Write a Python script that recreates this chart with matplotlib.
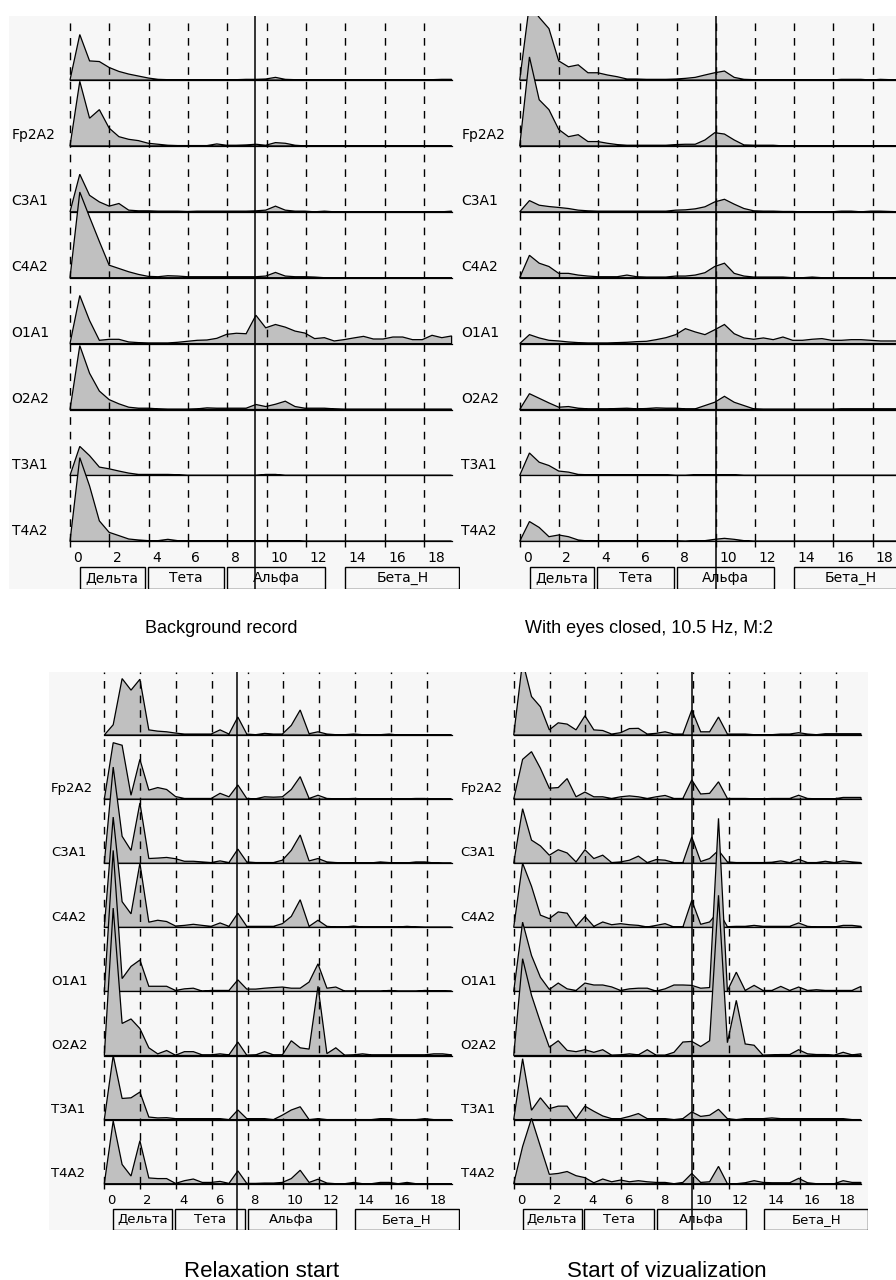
import matplotlib
matplotlib.use("Agg")
import matplotlib.pyplot as plt
from matplotlib.patches import Rectangle
import numpy as np

# frequency grid of the spectra (Hz)
freqs = np.linspace(0, 19.4, 40)

channels = ['', 'Fp2A2', 'C3A1', 'C4A2', 'O1A1', 'O2A2', 'T3A1', 'T4A2']
tick_hz = [0, 2, 4, 6, 8, 10, 12, 14, 16, 18]
band_names = ['Дельта', 'Тета', 'Альфа', 'Бета_Н']
band_lo = [0.5, 3.95, 8.0, 14.0]
band_hi = [3.8, 7.85, 12.95, 19.8]

titles = ['Background record', 'With eyes closed, 10.5 Hz, M:2',
          'Relaxation start', 'Start of vizualization']
marker_hz = [9.42, 10.02, 7.4, 9.94]

# spectra, in % of the row height, one list per channel (top to bottom)
background = [
    [0, 69, 29, 28, 19, 13, 9, 6, 3, 1, 0.5, 0.5, 0.5, 0.5, 0.5, 0.5, 0.5, 0.5, 1, 1,
     1.5, 4, 1, 0.5, 0, 0, 0, 0, 0, 0, 0, 0, 0, 0, 0, 0, 0, 0.5, 1, 1],
    [0, 98, 42, 55, 27, 14, 10, 8, 4, 2.5, 1, 0.5, 0.5, 0.5, 0.5, 3, 1, 1, 1.5, 2.5,
     1, 5, 4, 1, 0, 0, 0, 0, 0, 0, 0, 0, 0, 0, 0, 0, 0, 0, 0, 0],
    [0, 57, 25, 15, 8.6, 12.6, 2.5, 1.5, 1.5, 1, 1, 1, 0.5, 1, 1, 1, 1, 1, 1, 1.5,
     2.5, 8.6, 2.5, 1, 1, 0, 1, 0, 0, 0, 0, 0, 0, 0, 0, 0, 0, 0, 0, 1],
    [0, 130, 92, 55, 19, 14, 9, 5, 2, 1.5, 3, 2.5, 1.5, 1.5, 1.5, 1.5, 1.5, 1.5, 1.5, 1.5,
     2.5, 8, 2.5, 1.5, 1.5, 1, 0, 0, 0, 0, 0, 0, 0, 0, 0, 0, 0, 0, 0, 0],
    [0, 73, 35, 5, 6.5, 6.5, 2.5, 1.5, 1, 1, 1, 2, 3.5, 5, 5.5, 8, 14, 15.7, 15, 43,
     24, 29, 25, 19, 16, 7.6, 9, 4, 6, 8.6, 11, 7, 7, 10, 10, 6, 6, 12.6, 9, 11.6],
    [0, 97, 55, 28, 15, 8.6, 3.5, 2, 2, 1, 0.5, 0.5, 0.5, 1, 2.5, 2, 2, 2, 2, 7.6,
     4.5, 8, 12.6, 4.5, 2, 2, 2, 1, 0.5, 0.5, 0.5, 0.5, 0.5, 0.5, 0.5, 0.5, 0.5, 0.5, 0.5, 0.5],
    [0, 44, 30, 12.6, 10, 6.6, 3.5, 1.5, 1.5, 1.5, 1.5, 1, 0, 0, 0, 0, 0, 0, 0, 0,
     1.5, 1.5, 0, 0, 0, 0, 0, 0, 0, 0, 0, 0, 0, 0, 0, 0, 0, 0, 0, 0],
    [0, 127, 84, 31, 13.6, 8.6, 3.5, 2, 1, 1, 3, 1, 1, 1, 1, 1, 1, 1, 1, 1,
     1, 1, 1, 1, 0, 0, 0, 0, 0, 0, 0, 0, 0, 0, 0, 0, 0, 0, 0, 0],
]

eyes_closed = [
    [0, 115, 95, 78, 29, 20, 23, 11, 11, 7.6, 5, 1.5, 1.5, 1, 1, 1, 1.5, 2.5, 4, 7.6,
     11, 13.6, 4, 1, 0.5, 0.5, 0.5, 0, 0, 0, 0, 0, 0, 1, 1, 1, 0, 1, 0.5, 0],
    [0, 135, 70, 55, 25, 14, 17, 6.6, 6.6, 4, 2, 1, 1, 1, 1, 1, 2, 2.5, 2.5, 9,
     20, 18, 9, 1.5, 1, 1, 1, 0, 0, 0, 0, 0, 0, 0, 0, 0, 0, 0, 0, 0],
    [0, 17, 10, 8, 6.6, 5, 2.5, 1.5, 1, 1, 1, 1, 1, 1, 1, 1, 2.5, 3, 4.5, 7.6,
     15, 19, 11.6, 5, 1.5, 1, 1, 0.5, 0.5, 0, 0, 0, 0, 1, 1, 0, 1, 1, 0.5, 0],
    [0, 34, 22, 17, 6.6, 6.6, 4, 2.5, 1.5, 1.5, 1.5, 4, 1.5, 1, 1, 1, 2.5, 2.5, 4, 7.6,
     17, 22, 6.6, 2.5, 1, 1, 1, 1, 0, 0, 1, 0, 0, 0, 0, 0, 0, 0, 0, 0],
    [0, 13.6, 8.6, 5, 4, 2.5, 1.5, 1, 1, 1, 1.5, 2, 3, 3.5, 6, 9, 13.6, 22.7, 17.7, 13.6,
     21, 29, 15, 8.6, 6.6, 8.6, 6, 10, 5, 5, 6.6, 7.6, 5, 5, 6, 6, 5, 4, 4, 4],
    [0, 24, 17, 10, 3.5, 4.5, 2, 1, 1, 1, 1.5, 2, 1, 1.5, 2.5, 2, 2, 1, 1, 6,
     11, 20, 11, 6, 1, 0.5, 0.5, 0.5, 0.5, 0.5, 0.5, 0.5, 0.5, 1, 1, 1, 1, 1, 1, 1],
    [0, 34, 20, 15, 6.6, 5, 1.5, 1, 1, 1, 1, 1, 1, 1, 1, 1, 0, 0, 1, 1,
     1, 1, 1, 0, 0, 0, 0, 0, 0, 0, 0, 0, 0, 0, 0, 0, 0, 0, 0, 0],
    [0, 30, 21, 7, 9.6, 7, 2, 0.5, 1, 1, 1, 1, 0.5, 1, 1, 0.5, 0.5, 0, 1, 1,
     3, 4.5, 3, 1, 0, 0, 0, 0, 0, 0, 0, 0, 0, 0, 0, 0, 0, 0, 0, 0],
]

relaxation = [
    [0, 16, 88, 70, 87, 8, 6, 5, 3, 1.5, 1.5, 1.5, 1.5, 8, 1.5, 28, 1.5, 0.5, 2.5, 1.5,
     1.5, 15, 39, 2, 5, 1.5, 0.5, 0.5, 1.5, 0.5, 0.5, 0.5, 1.5, 0, 0, 0, 0, 0, 0, 0],
    [0, 88, 84, 6, 62, 14, 18, 15, 4, 1, 1, 1, 1, 9, 3.6, 22, 1, 0.5, 3.6, 3,
     3.6, 15, 35, 1, 6, 1, 0.5, 0.5, 1, 0.5, 0.5, 0.5, 0.5, 0.5, 0.5, 1, 1, 0, 0, 0],
    [0, 150, 42, 20, 94, 7.3, 8, 9, 7, 3, 3, 2, 1, 3.6, 1, 22, 2, 1, 1, 1,
     4.7, 20, 44, 3.6, 7.3, 2, 1, 0.5, 0.5, 0.5, 0.5, 2, 1, 0.5, 0.5, 2, 2, 0.5, 0, 0],
    [0, 172, 40, 21, 100, 8, 11, 9, 2, 3, 4.7, 3, 1.5, 6.8, 1.5, 22, 1.5, 1.5, 1.5, 1.5,
     5.7, 17, 43, 1.5, 11, 1.5, 0.5, 0.5, 2, 0.5, 0.5, 0.5, 0.5, 0.5, 1.5, 0.5, 0, 0, 0, 0],
    [0, 220, 20, 39, 49, 8, 8, 8, 1.5, 4, 5, 0.5, 1.5, 1.5, 1.5, 18, 3.6, 3.6, 5, 6,
     6.8, 5, 5, 14.6, 43, 5, 6.8, 0.5, 0.5, 0.5, 0.5, 0.5, 1.5, 0.5, 0.5, 0.5, 1.5, 1, 1, 0.5],
    [0, 230, 50, 57, 42, 12, 2.6, 7.8, 0.5, 6, 6, 1, 1, 2.6, 1, 21, 0.5, 1, 6, 1,
     1, 23, 12, 10, 108, 3, 12, 0.5, 1, 2.6, 1, 1, 1, 1, 1, 1, 1, 2.6, 2.6, 1],
    [0, 100, 33, 34, 43, 4, 2.6, 3, 1.5, 1.5, 1.5, 1.5, 1.5, 1.5, 0, 15, 1.5, 1.5, 1.5, 0,
     7, 15, 20, 0, 1.5, 0, 0, 0, 0, 0, 0, 1.5, 1.5, 0, 0, 0, 1.5, 0, 0, 0],
    [0, 98, 30, 12, 67, 9, 8, 8, 0.5, 4.7, 7.3, 2, 2, 3.6, 0.5, 20, 0.5, 0.5, 1, 1,
     2, 8, 21, 2, 7, 1, 0, 0, 2, 0, 0, 2, 2, 0, 2, 0, 0, 0, 0, 0],
]

visualization = [
    [0, 115, 60, 44, 8, 19, 17, 8, 30, 8, 7, 1.5, 3.6, 10, 10.4, 1.5, 2.6, 5, 1.5, 1.5,
     39, 5, 5, 28, 1.5, 1.5, 1.5, 0.5, 0.5, 0.5, 1.5, 1.5, 3.6, 1.5, 0.5, 2, 2, 2, 2, 2],
    [0, 62, 74, 48, 17, 18, 32, 3.6, 11, 3.6, 3.6, 1, 3.6, 5, 3.6, 1, 3.6, 5.7, 1, 1,
     30, 8, 9, 27, 1, 1, 1, 0.5, 0.5, 1, 1, 1, 6, 1, 0.5, 0.5, 0.5, 2.6, 2.6, 2.6],
    [0, 85, 36, 27, 12.5, 21, 16, 2, 21, 7.3, 12.5, 1, 2, 4.7, 11, 1, 5.7, 4.7, 1, 1,
     41, 2.6, 7.3, 20, 2, 1, 1, 1, 1, 1.5, 3.6, 1, 6, 1, 1, 3, 1, 3.6, 2, 1],
    [0, 100, 64, 19, 13.5, 24, 22, 1.5, 17, 1.5, 8.3, 4, 5.7, 4, 3, 0.5, 3, 5.7, 0.5, 0.5,
     42, 4.7, 8.3, 25, 1, 1.5, 1.5, 3, 1.5, 1.5, 1.5, 1.5, 6.8, 1.5, 0.5, 0.5, 0.5, 3, 3, 1.5],
    [0, 108, 56, 22, 3, 13, 4, 1.5, 13, 10, 10, 7, 1.5, 4, 5, 5, 0.5, 4, 10, 10,
     9.4, 5, 6, 270, 1, 30, 1.5, 9.4, 1.5, 1.5, 7.8, 1.5, 6.8, 1.5, 2.6, 1.5, 1.5, 1.5, 1.5, 7.8],
    [0, 151, 94, 52, 13, 23, 8, 6, 9, 5, 9, 0.5, 1, 2.6, 1, 9, 0.5, 0.5, 5, 21,
     22, 14, 23, 250, 20, 86, 18, 16, 0.5, 1, 1.5, 1.5, 9, 2.6, 1.5, 1.5, 0.5, 5, 1, 2.6],
    [0, 95, 14.6, 34, 17, 21, 21, 1.5, 21, 13, 5.7, 1.5, 1.5, 5, 9.4, 1.5, 1.5, 1.5, 0, 1.5,
     12, 5, 6.8, 16, 1.5, 0, 1.5, 1.5, 1.5, 2.6, 1.5, 1.5, 1.5, 1.5, 1.5, 1.5, 1.5, 1.5, 0, 0],
    [0, 58, 102, 58, 14.6, 16, 19, 12.5, 9.4, 1.5, 7.3, 3, 5.7, 3, 4.7, 3, 2, 2, 0, 2,
     16, 2, 3, 27, 0, 0, 1.5, 4.7, 2, 1.5, 1.5, 1.5, 8.3, 1.5, 0, 0, 0, 4.7, 2, 2],
]

W, H = 896, 1280
fig = plt.figure(figsize=(W / 100, H / 100), dpi=100, facecolor='white')

FILL = '#c0c0c0'
PANEL_BG = '#f7f7f7'


def draw_panel(box, x0, px_hz, base0, row, spectra, marker, fs):
    left, top, right, bottom = box
    ax = fig.add_axes([left / W, 1 - bottom / H, (right - left) / W, (bottom - top) / H])
    ax.set_facecolor(PANEL_BG)
    for s in ax.spines.values():
        s.set_visible(False)
    ax.set_xticks([])
    ax.set_yticks([])
    n = len(spectra)
    ytop = (n - 1) + (base0 - top) / row
    ybot = -(bottom - (base0 + (n - 1) * row)) / row
    ax.set_xlim((left - x0) / px_hz, (right - x0) / px_hz)
    ax.set_ylim(ybot, ytop)

    for k, (name, vals) in enumerate(zip(channels, spectra)):
        b = n - 1 - k
        v = np.asarray(vals, dtype=float) / 100.0
        xs = np.concatenate([freqs, [freqs[-1], freqs[0]]])
        ys = np.concatenate([b + v, [b, b]])
        ax.plot([freqs[0], freqs[-1]], [b, b], color='black', lw=0.9, zorder=2 + 0.1 * k)
        ax.fill(xs, ys, facecolor=FILL, edgecolor='black', lw=0.9, zorder=2.05 + 0.1 * k)
        if name:
            ax.text(-2.97, b + 0.16, name, ha='left', va='center', fontsize=fs, zorder=8)

    # grid of dashed lines and ticks
    ax.vlines(tick_hz, 0, ytop, colors='black', linestyles=(0, (5.5, 5)), lw=1.0, zorder=5)
    ax.vlines(tick_hz, -0.08, 0, colors='black', lw=1.0, zorder=5)
    for t in tick_hz:
        ax.text(t + 0.17, -0.26, str(t), ha='left', va='center', fontsize=fs, zorder=8)

    # band boxes
    for name, lo, hi in zip(band_names, band_lo, band_hi):
        ax.add_patch(Rectangle((lo, -0.725), hi - lo, 0.335, fill=False,
                               edgecolor='black', lw=1.0, zorder=6))
        ax.text((lo + hi) / 2, -0.555, name, ha='center', va='center', fontsize=fs, zorder=8)

    ax.axvline(marker, color='black', lw=1.1, zorder=7)
    return ax


draw_panel((9, 16, 460, 589), 70.0, 19.67, 80, 65.9, background, marker_hz[0], 10)
draw_panel((460, 16, 912, 589), 519.7, 19.6, 80, 65.9, eyes_closed, marker_hz[1], 10)
draw_panel((49, 672, 460, 1230), 104.3, 17.9, 735, 64.1, relaxation, marker_hz[2], 9.5)
draw_panel((460, 672, 867.7, 1230), 513.7, 17.9, 735, 64.1, visualization, marker_hz[3], 9.5)

title_pos = [(221, 633, 13), (649, 633, 13), (262, 1277, 16), (667, 1277, 16)]
for txt, (tx, ty, size) in zip(titles, title_pos):
    fig.text(tx / W, 1 - ty / H, txt, ha='center', va='baseline',
             fontsize=size, family='Liberation Sans')

fig.savefig('out.png', dpi=100, facecolor='white')
plt.close(fig)
